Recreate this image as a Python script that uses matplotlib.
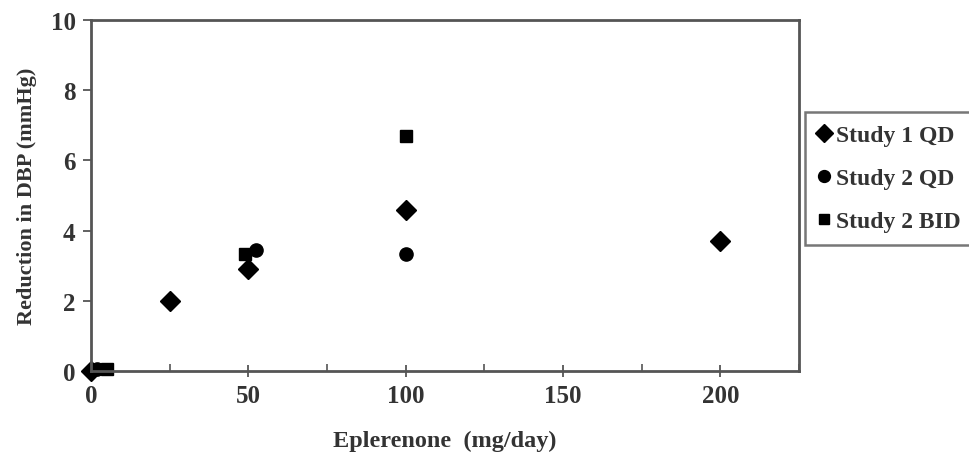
import matplotlib
matplotlib.use('Agg')
from matplotlib import pyplot as plt
from matplotlib.ticker import MultipleLocator

# values
s1_dose = [0, 25, 50, 100, 200]
s1_dbp = [0.0, 2.0, 2.9, 4.6, 3.7]
s2qd_dose = [2, 52.5, 100]
s2qd_dbp = [0.05, 3.45, 3.33]
s2bid_dose = [5, 49, 100]
s2bid_dbp = [0.05, 3.33, 6.7]

plt.rcParams['font.family'] = 'Liberation Serif'
plt.rcParams['font.weight'] = 'bold'
txt = '#333333'
spine = '#555555'

fig = plt.figure(figsize = (9.7, 4.64), dpi = 100)
ax = fig.add_axes([0.0938, 0.198, 0.7299, 0.7567])

ax.plot(s1_dose, s1_dbp, 'D', color = 'black', markersize = 10, linestyle = 'none', label = 'Study 1 QD')
ax.plot(s2qd_dose, s2qd_dbp, 'o', color = 'black', markersize = 9.5, linestyle = 'none', label = 'Study 2 QD')
ax.plot(s2bid_dose, s2bid_dbp, 's', color = 'black', markersize = 8, linestyle = 'none', label = 'Study 2 BID')

ax.set_xlim(0, 225)
ax.set_ylim(0, 10)
ax.set_xticks([0, 50, 100, 150, 200])
ax.xaxis.set_minor_locator(MultipleLocator(25))
ax.set_yticks([0, 2, 4, 6, 8, 10])
ax.tick_params(axis = 'x', which = 'major', direction = 'inout', length = 9, width = 1.3, color = spine, labelsize = 18, labelcolor = txt, pad = 5)
ax.tick_params(axis = 'x', which = 'minor', direction = 'in', length = 5, width = 1.2, color = spine)
ax.tick_params(axis = 'y', direction = 'out', length = 6, width = 1.3, color = spine, labelsize = 18, labelcolor = txt, pad = 5)
for s in ax.spines.values():
    s.set_color(spine)
    s.set_linewidth(2)
for line in ax.lines:
    line.set_clip_on(False)

ax.set_xlabel('Eplerenone  (mg/day)', fontsize = 17.5, fontweight = 'bold', color = txt, labelpad = 16)
ax.set_ylabel('Reduction in DBP (mmHg)', fontsize = 16, fontweight = 'bold', color = txt, labelpad = 10)

leg = fig.legend(loc = 'upper left', bbox_to_anchor = (0.830, 0.7565), prop = {'size': 17, 'weight': 'bold'},
                 frameon = True, fancybox = False, handlelength = 0.5, handletextpad = 0.25, labelspacing = 0.9,
                 borderpad = 0.55, borderaxespad = 0, markerscale = 0.9)
leg.get_frame().set_edgecolor(spine)
leg.get_frame().set_linewidth(1.8)
for t in leg.get_texts():
    t.set_color(txt)

plt.savefig('out.png', dpi = 100)
